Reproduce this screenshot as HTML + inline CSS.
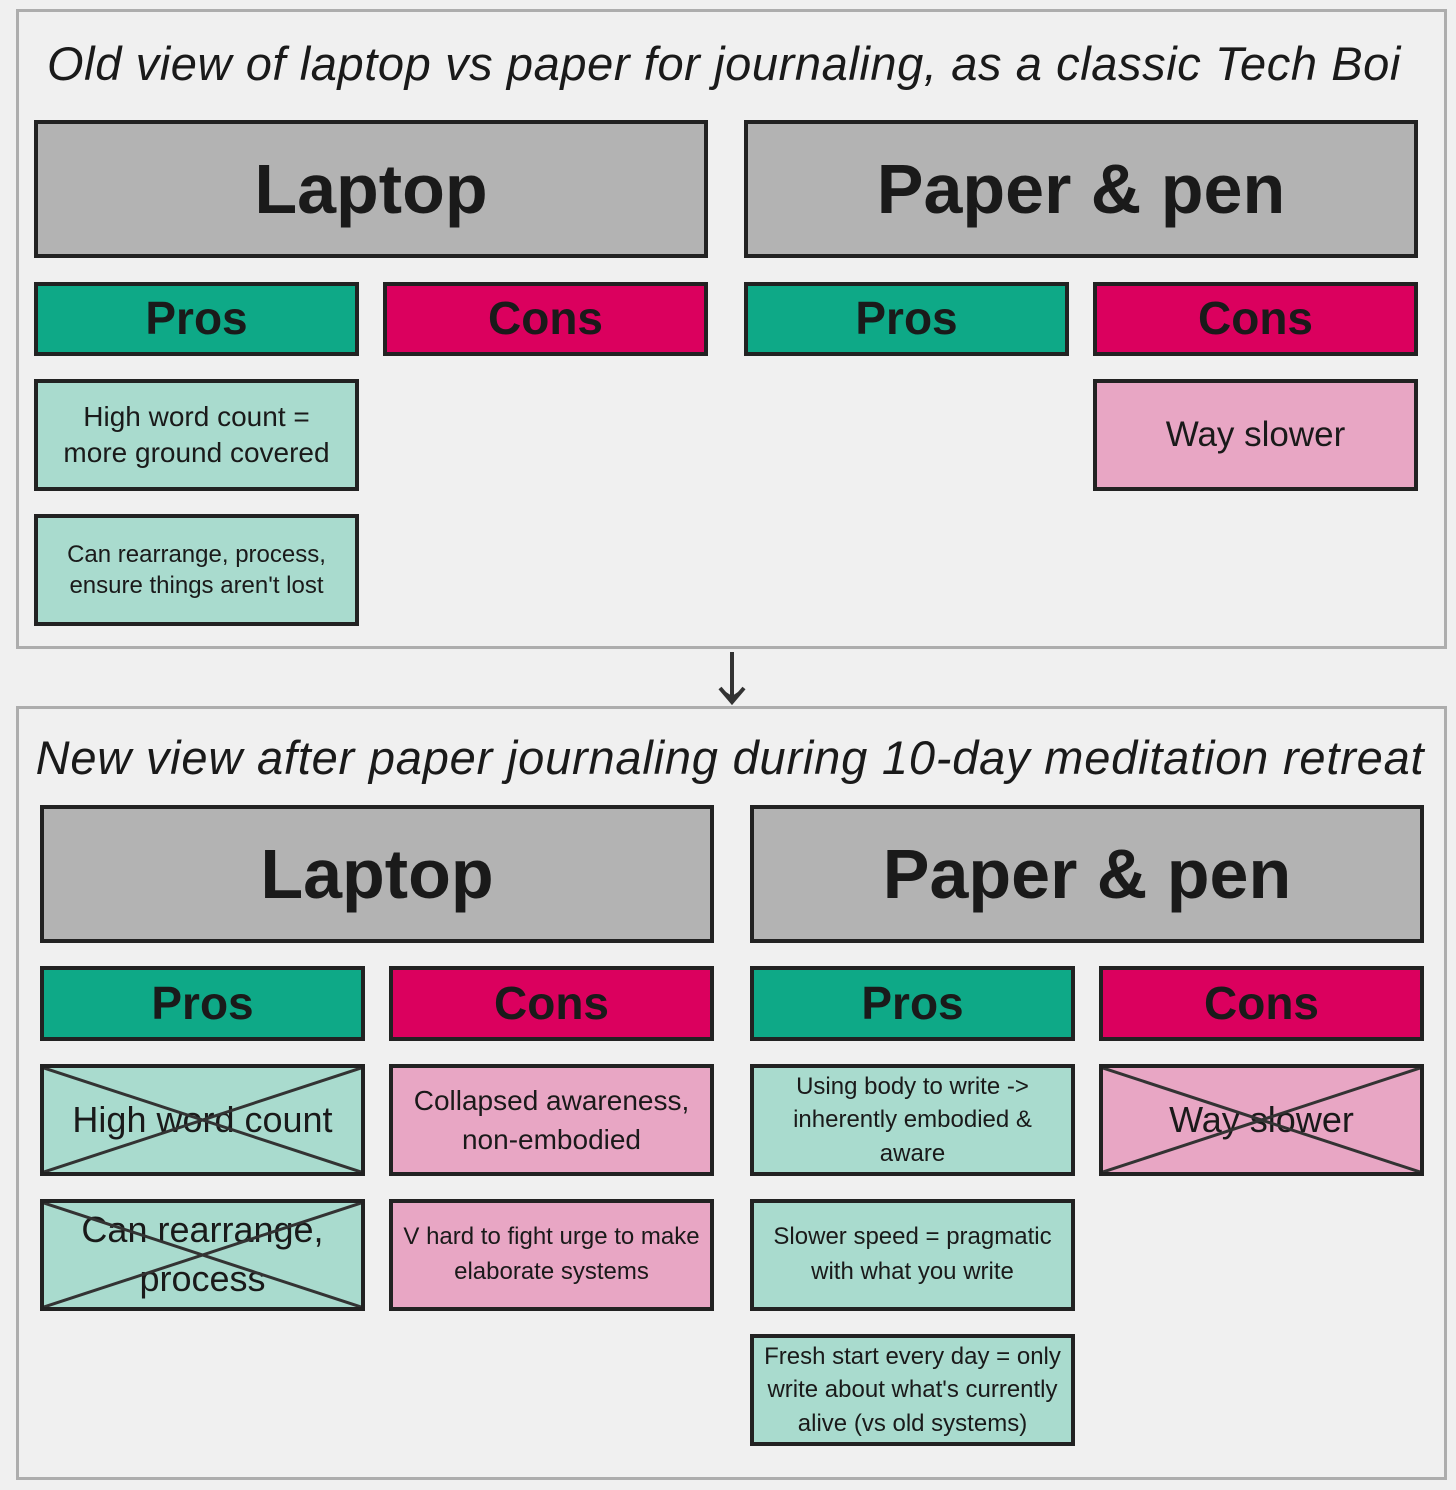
<!DOCTYPE html>
<html><head><meta charset="utf-8"><style>
body{margin:0;width:1456px;height:1490px;background:#f0f0f0;position:relative;overflow:hidden;font-family:"Liberation Sans",sans-serif;color:#1a1a1a}
.p{position:absolute;border:3px solid #adadad;box-sizing:border-box}
.b{position:absolute;box-sizing:border-box;border:4px solid #222;display:flex;align-items:center;justify-content:center;text-align:center;line-height:1.3}
.h{background:#b3b3b3;font-weight:bold;font-size:70px}
.pr{background:#0ea987;font-weight:bold;font-size:46px}
.co{background:#db005e;font-weight:bold;font-size:46px}
.g{background:#a9dbce}
.k{background:#e8a6c4}
.t{position:absolute;font-style:italic;font-size:47px;text-align:center;width:1456px;left:0;white-space:nowrap}
svg.x{position:absolute;left:0;top:0;width:100%;height:100%}
</style></head><body>
<div class="p" style="left:16px;top:9px;width:1431px;height:640px"></div>
<div class="p" style="left:16px;top:706px;width:1431px;height:774px"></div>
<div class="t" style="top:36px;left:-4px;letter-spacing:0.6px">Old view of laptop vs paper for journaling, as a classic Tech Boi</div>
<div class="t" style="top:730px;left:2px;letter-spacing:0.8px">New view after paper journaling during 10-day meditation retreat</div>

<div class="b h" style="left:34px;top:120px;width:674px;height:138px">Laptop</div>
<div class="b h" style="left:744px;top:120px;width:674px;height:138px">Paper &amp; pen</div>
<div class="b pr" style="left:34px;top:282px;width:325px;height:74px">Pros</div>
<div class="b co" style="left:383px;top:282px;width:325px;height:74px">Cons</div>
<div class="b pr" style="left:744px;top:282px;width:325px;height:74px">Pros</div>
<div class="b co" style="left:1093px;top:282px;width:325px;height:74px">Cons</div>
<div class="b g" style="left:34px;top:379px;width:325px;height:112px;font-size:28px">High word count =<br>more ground covered</div>
<div class="b g" style="left:34px;top:514px;width:325px;height:112px;font-size:24px">Can rearrange, process,<br>ensure things aren't lost</div>
<div class="b k" style="left:1093px;top:379px;width:325px;height:112px;font-size:35px">Way slower</div>

<svg style="position:absolute;left:716px;top:650px" width="32" height="58"><line x1="16" y1="2" x2="16" y2="48" stroke="#333" stroke-width="4"/><polygon points="4,38 16,54 28,38 16,46" fill="#333"/><polyline points="4,38 16,52 28,38" fill="none" stroke="#333" stroke-width="4"/></svg>

<div class="b h" style="left:40px;top:805px;width:674px;height:138px">Laptop</div>
<div class="b h" style="left:750px;top:805px;width:674px;height:138px">Paper &amp; pen</div>
<div class="b pr" style="left:40px;top:966px;width:325px;height:75px">Pros</div>
<div class="b co" style="left:389px;top:966px;width:325px;height:75px">Cons</div>
<div class="b pr" style="left:750px;top:966px;width:325px;height:75px">Pros</div>
<div class="b co" style="left:1099px;top:966px;width:325px;height:75px">Cons</div>

<div class="b g" style="left:40px;top:1064px;width:325px;height:112px;font-size:36px">High word count<svg class="x" viewBox="0 0 100 100" preserveAspectRatio="none"><line x1="0" y1="100" x2="100" y2="0" stroke="#333" vector-effect="non-scaling-stroke" style="stroke-width:3"/><line x1="0" y1="0" x2="100" y2="100" stroke="#333" vector-effect="non-scaling-stroke" style="stroke-width:3"/></svg></div>
<div class="b g" style="left:40px;top:1199px;width:325px;height:112px;font-size:36px;line-height:1.35">Can rearrange,<br>process<svg class="x" viewBox="0 0 100 100" preserveAspectRatio="none"><line x1="0" y1="100" x2="100" y2="0" stroke="#333" vector-effect="non-scaling-stroke" style="stroke-width:3"/><line x1="0" y1="0" x2="100" y2="100" stroke="#333" vector-effect="non-scaling-stroke" style="stroke-width:3"/></svg></div>
<div class="b k" style="left:389px;top:1064px;width:325px;height:112px;font-size:28px;line-height:1.4">Collapsed awareness,<br>non-embodied</div>
<div class="b k" style="left:389px;top:1199px;width:325px;height:112px;font-size:24px;line-height:1.45;white-space:nowrap">V hard to fight urge to make<br>elaborate systems</div>
<div class="b g" style="left:750px;top:1064px;width:325px;height:112px;font-size:24px;line-height:1.4">Using body to write -&gt;<br>inherently embodied &amp;<br>aware</div>
<div class="b g" style="left:750px;top:1199px;width:325px;height:112px;font-size:24px;line-height:1.45">Slower speed = pragmatic<br>with what you write</div>
<div class="b g" style="left:750px;top:1334px;width:325px;height:112px;font-size:24px;line-height:1.4;white-space:nowrap">Fresh start every day = only<br>write about what's currently<br>alive (vs old systems)</div>
<div class="b k" style="left:1099px;top:1064px;width:325px;height:112px;font-size:36px">Way slower<svg class="x" viewBox="0 0 100 100" preserveAspectRatio="none"><line x1="0" y1="100" x2="100" y2="0" stroke="#333" vector-effect="non-scaling-stroke" style="stroke-width:3"/><line x1="0" y1="0" x2="100" y2="100" stroke="#333" vector-effect="non-scaling-stroke" style="stroke-width:3"/></svg></div>
</body></html>
